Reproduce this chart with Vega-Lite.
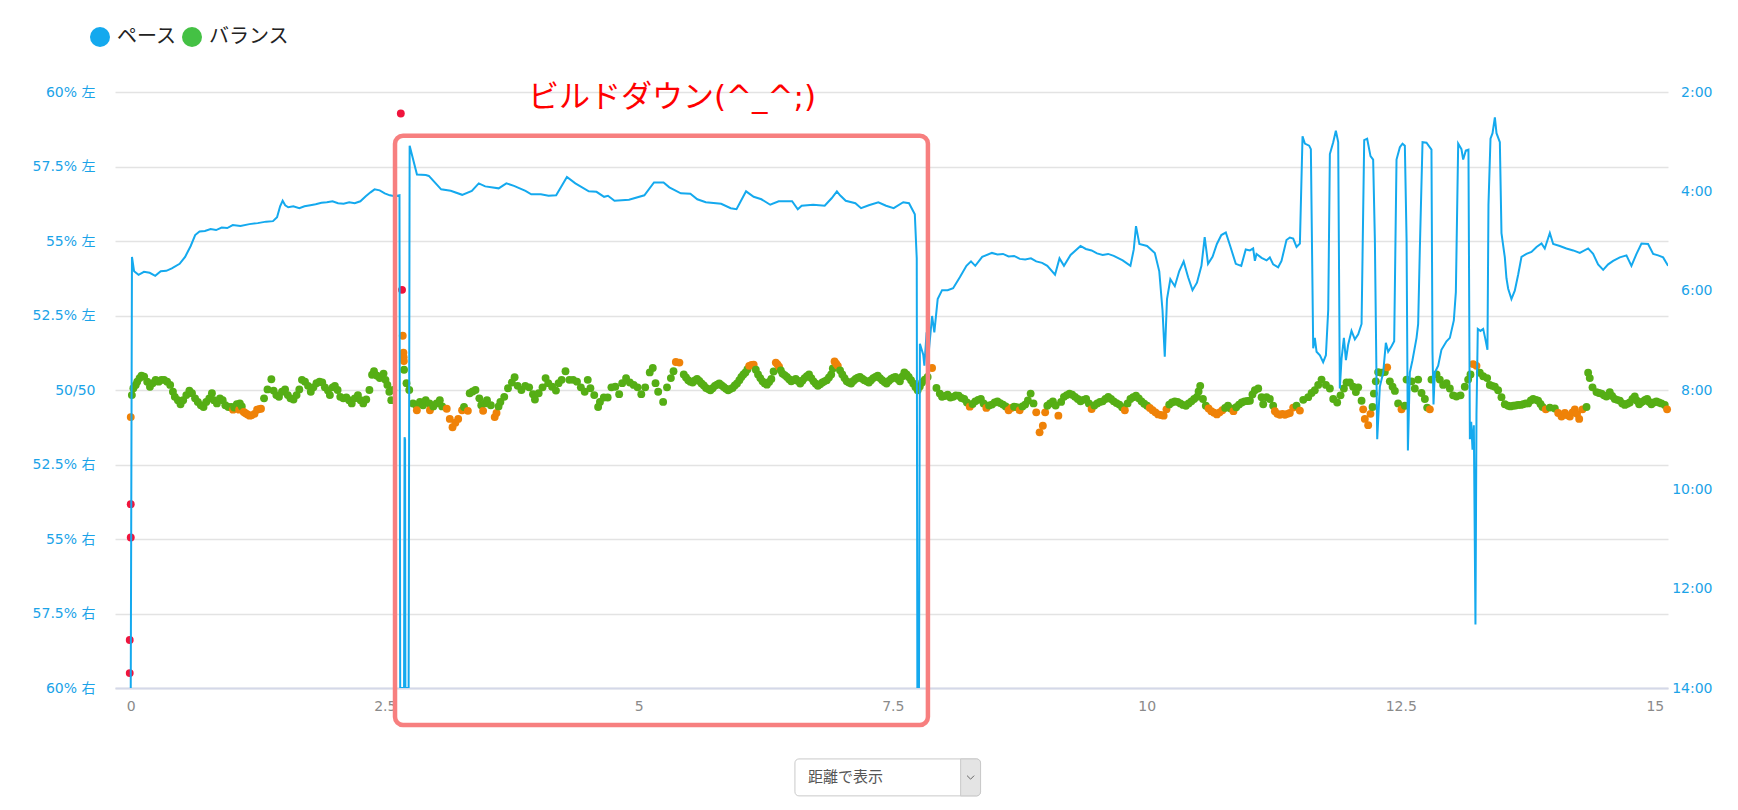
{
"$schema": "https://vega.github.io/schema/vega-lite/v6.json",
"width": 1553,
"height": 596,
"autosize": {"type": "none"},
"padding": {"left": 115, "top": 92, "right": 70, "bottom": 122},
"background": "white",
"config": {"view": {"stroke": null}, "font": "DejaVu Sans, Noto Sans CJK JP"},
"datasets": {
"pace": [
{"km":0,"pace":14},{"km":0.012,"pace":5.32},{"km":0.033,"pace":5.61},{"km":0.077,"pace":5.68},{"km":0.13,"pace":5.62},{"km":0.186,"pace":5.64},{"km":0.241,"pace":5.70},{"km":0.295,"pace":5.61},{"km":0.35,"pace":5.60},{"km":0.404,"pace":5.55},{"km":0.481,"pace":5.46},{"km":0.535,"pace":5.32},{"km":0.59,"pace":5.10},{"km":0.634,"pace":4.88},{"km":0.677,"pace":4.81},{"km":0.73,"pace":4.80},{"km":0.786,"pace":4.76},{"km":0.84,"pace":4.78},{"km":0.895,"pace":4.73},{"km":0.95,"pace":4.74},{"km":1.004,"pace":4.68},{"km":1.08,"pace":4.70},{"km":1.168,"pace":4.66},{"km":1.25,"pace":4.64},{"km":1.332,"pace":4.61},{"km":1.40,"pace":4.60},{"km":1.44,"pace":4.52},{"km":1.47,"pace":4.30},{"km":1.495,"pace":4.19},{"km":1.52,"pace":4.28},{"km":1.55,"pace":4.32},{"km":1.60,"pace":4.30},{"km":1.659,"pace":4.34},{"km":1.71,"pace":4.30},{"km":1.768,"pace":4.28},{"km":1.82,"pace":4.26},{"km":1.877,"pace":4.23},{"km":1.93,"pace":4.22},{"km":1.986,"pace":4.20},{"km":2.04,"pace":4.24},{"km":2.095,"pace":4.25},{"km":2.15,"pace":4.22},{"km":2.204,"pace":4.24},{"km":2.26,"pace":4.20},{"km":2.313,"pace":4.10},{"km":2.36,"pace":4.02},{"km":2.40,"pace":3.96},{"km":2.45,"pace":3.98},{"km":2.50,"pace":4.04},{"km":2.55,"pace":4.08},{"km":2.60,"pace":4.10},{"km":2.645,"pace":4.08},
{"km":2.652,"pace":14},{"km":2.69,"pace":14},{"km":2.695,"pace":8.95},{"km":2.70,"pace":9.0},{"km":2.703,"pace":14},{"km":2.735,"pace":14},
{"km":2.745,"pace":3.08},{"km":2.817,"pace":3.66},{"km":2.904,"pace":3.67},{"km":2.934,"pace":3.69},{"km":3.055,"pace":3.96},{"km":3.149,"pace":3.99},{"km":3.262,"pace":4.07},{"km":3.357,"pace":3.99},{"km":3.425,"pace":3.84},{"km":3.489,"pace":3.90},{"km":3.621,"pace":3.94},{"km":3.697,"pace":3.84},{"km":3.772,"pace":3.89},{"km":3.885,"pace":3.99},{"km":3.942,"pace":4.06},{"km":4.036,"pace":4.06},{"km":4.112,"pace":4.09},{"km":4.187,"pace":4.08},{"km":4.293,"pace":3.71},{"km":4.376,"pace":3.84},{"km":4.508,"pace":4.00},{"km":4.584,"pace":4.01},{"km":4.659,"pace":4.11},{"km":4.697,"pace":4.09},{"km":4.761,"pace":4.19},{"km":4.904,"pace":4.17},{"km":5.055,"pace":4.08},{"km":5.150,"pace":3.82},{"km":5.244,"pace":3.82},{"km":5.301,"pace":3.92},{"km":5.414,"pace":4.04},{"km":5.508,"pace":4.05},{"km":5.576,"pace":4.16},{"km":5.660,"pace":4.22},{"km":5.811,"pace":4.25},{"km":5.905,"pace":4.34},{"km":5.962,"pace":4.36},{"km":6.056,"pace":4.00},{"km":6.131,"pace":4.11},{"km":6.207,"pace":4.16},{"km":6.294,"pace":4.27},{"km":6.377,"pace":4.20},{"km":6.509,"pace":4.20},{"km":6.565,"pace":4.36},{"km":6.603,"pace":4.29},{"km":6.716,"pace":4.27},{"km":6.830,"pace":4.29},{"km":6.898,"pace":4.14},{"km":6.950,"pace":4.00},{"km":6.981,"pace":4.08},{"km":7.037,"pace":4.19},{"km":7.132,"pace":4.24},{"km":7.188,"pace":4.34},{"km":7.264,"pace":4.28},{"km":7.358,"pace":4.22},{"km":7.434,"pace":4.29},{"km":7.509,"pace":4.34},{"km":7.603,"pace":4.22},{"km":7.660,"pace":4.24},{"km":7.717,"pace":4.46},{"km":7.736,"pace":5.35},
{"km":7.742,"pace":14},{"km":7.758,"pace":14},{"km":7.767,"pace":7.07},{"km":7.80,"pace":7.29},{"km":7.811,"pace":7.51},{"km":7.833,"pace":6.84},{"km":7.854,"pace":7.24},{"km":7.887,"pace":6.51},{"km":7.909,"pace":6.84},{"km":7.942,"pace":6.17},{"km":7.985,"pace":5.99},{"km":8.04,"pace":5.99},{"km":8.094,"pace":5.95},{"km":8.16,"pace":5.73},{"km":8.225,"pace":5.50},{"km":8.27,"pace":5.41},{"km":8.312,"pace":5.50},{"km":8.38,"pace":5.32},{"km":8.476,"pace":5.24},{"km":8.53,"pace":5.27},{"km":8.585,"pace":5.26},{"km":8.64,"pace":5.31},{"km":8.694,"pace":5.30},{"km":8.75,"pace":5.36},{"km":8.803,"pace":5.37},{"km":8.86,"pace":5.35},{"km":8.912,"pace":5.41},{"km":8.97,"pace":5.44},{"km":9.021,"pace":5.50},{"km":9.097,"pace":5.68},{"km":9.141,"pace":5.35},{"km":9.185,"pace":5.50},{"km":9.25,"pace":5.28},{"km":9.348,"pace":5.10},{"km":9.40,"pace":5.16},{"km":9.457,"pace":5.19},{"km":9.51,"pace":5.25},{"km":9.566,"pace":5.28},{"km":9.62,"pace":5.26},{"km":9.675,"pace":5.30},{"km":9.763,"pace":5.39},{"km":9.839,"pace":5.50},{"km":9.872,"pace":5.17},{"km":9.894,"pace":4.70},{"km":9.927,"pace":5.06},{"km":10.003,"pace":5.10},{"km":10.079,"pace":5.24},{"km":10.123,"pace":5.61},{"km":10.155,"pace":6.40},{"km":10.177,"pace":7.33},{"km":10.199,"pace":6.17},{"km":10.232,"pace":5.77},{"km":10.276,"pace":5.91},{"km":10.319,"pace":5.61},{"km":10.363,"pace":5.41},{"km":10.407,"pace":5.73},{"km":10.45,"pace":5.99},{"km":10.494,"pace":5.84},{"km":10.538,"pace":5.50},{"km":10.57,"pace":4.92},{"km":10.603,"pace":5.46},{"km":10.647,"pace":5.32},{"km":10.69,"pace":5.06},{"km":10.734,"pace":4.88},{"km":10.778,"pace":4.83},{"km":10.821,"pace":5.10},{"km":10.876,"pace":5.46},{"km":10.93,"pace":5.50},{"km":10.974,"pace":5.17},
{"km":11.015,"pace":5.19},{"km":11.047,"pace":5.15},{"km":11.064,"pace":5.40},{"km":11.08,"pace":5.26},{"km":11.13,"pace":5.34},{"km":11.179,"pace":5.39},{"km":11.211,"pace":5.33},{"km":11.244,"pace":5.47},{"km":11.293,"pace":5.53},{"km":11.326,"pace":5.40},{"km":11.375,"pace":4.98},{"km":11.408,"pace":4.93},{"km":11.441,"pace":4.95},{"km":11.474,"pace":5.12},{"km":11.507,"pace":5.05},{"km":11.533,"pace":2.89},{"km":11.556,"pace":3.04},{"km":11.598,"pace":3.08},{"km":11.615,"pace":3.15},{"km":11.638,"pace":7.16},{"km":11.654,"pace":6.95},{"km":11.671,"pace":7.23},{"km":11.704,"pace":7.30},{"km":11.736,"pace":7.44},{"km":11.763,"pace":7.30},{"km":11.786,"pace":6.38},{"km":11.802,"pace":3.25},{"km":11.835,"pace":3.01},{"km":11.861,"pace":2.78},{"km":11.884,"pace":3.01},{"km":11.90,"pace":7.97},{"km":11.917,"pace":7.37},{"km":11.94,"pace":6.95},{"km":11.96,"pace":7.40},{"km":11.982,"pace":7.09},{"km":12.015,"pace":6.81},{"km":12.048,"pace":6.98},{"km":12.081,"pace":6.88},{"km":12.114,"pace":6.67},{"km":12.14,"pace":2.97},{"km":12.169,"pace":2.94},{"km":12.202,"pace":3.29},{"km":12.228,"pace":3.36},{"km":12.245,"pace":4.98},{"km":12.268,"pace":8.99},{"km":12.294,"pace":7.93},{"km":12.327,"pace":7.65},{"km":12.353,"pace":7.05},{"km":12.376,"pace":7.23},{"km":12.409,"pace":7.12},{"km":12.435,"pace":7.02},{"km":12.458,"pace":3.36},{"km":12.491,"pace":3.11},{"km":12.517,"pace":3.04},{"km":12.54,"pace":3.08},{"km":12.557,"pace":4.98},{"km":12.57,"pace":9.22},{"km":12.589,"pace":7.65},{"km":12.615,"pace":7.40},{"km":12.655,"pace":6.95},{"km":12.671,"pace":6.67},{"km":12.688,"pace":5.12},{"km":12.714,"pace":3.01},{"km":12.753,"pace":3.02},{"km":12.802,"pace":3.16},{"km":12.812,"pace":7.23},{"km":12.822,"pace":8.29},{"km":12.835,"pace":7.65},{"km":12.868,"pace":7.51},{"km":12.9,"pace":7.19},{"km":12.95,"pace":7.02},{"km":12.983,"pace":6.95},{"km":13.022,"pace":6.60},{"km":13.042,"pace":6.03},{"km":13.065,"pace":3.04},{"km":13.097,"pace":3.15},{"km":13.114,"pace":3.36},{"km":13.14,"pace":3.18},{"km":13.166,"pace":3.16},{"km":13.18,"pace":8.99},{"km":13.193,"pace":8.64},{"km":13.206,"pace":9.20},{"km":13.219,"pace":8.71},{"km":13.235,"pace":12.72},{"km":13.245,"pace":8.50},{"km":13.258,"pace":6.77},{"km":13.284,"pace":6.81},{"km":13.311,"pace":6.77},{"km":13.33,"pace":6.95},{"km":13.353,"pace":7.19},{"km":13.363,"pace":4.27},{"km":13.383,"pace":2.94},{"km":13.403,"pace":2.83},{"km":13.426,"pace":2.51},{"km":13.442,"pace":2.83},{"km":13.475,"pace":3.01},{"km":13.491,"pace":4.84},{"km":13.524,"pace":5.33},{"km":13.54,"pace":5.75},{"km":13.557,"pace":5.96},{"km":13.589,"pace":6.17},{"km":13.622,"pace":6.00},{"km":13.655,"pace":5.68},{"km":13.688,"pace":5.32},{"km":13.737,"pace":5.26},{"km":13.786,"pace":5.22},{"km":13.836,"pace":5.12},{"km":13.885,"pace":5.05},{"km":13.917,"pace":5.15},{"km":13.967,"pace":4.84},{"km":14.0,"pace":5.06},{"km":14.065,"pace":5.10},{"km":14.13,"pace":5.15},{"km":14.197,"pace":5.19},{"km":14.262,"pace":5.24},{"km":14.344,"pace":5.15},{"km":14.393,"pace":5.26},{"km":14.442,"pace":5.47},{"km":14.492,"pace":5.58},{"km":14.541,"pace":5.47},{"km":14.59,"pace":5.40},{"km":14.656,"pace":5.33},{"km":14.721,"pace":5.29},{"km":14.77,"pace":5.50},{"km":14.82,"pace":5.26},{"km":14.869,"pace":5.05},{"km":14.934,"pace":5.06},{"km":14.984,"pace":5.26},{"km":15.033,"pace":5.29},{"km":15.082,"pace":5.33},{"km":15.131,"pace":5.50}
],
"bal": [
{"km":0,"bal":-0.91,"c":"o"},{"km":0,"bal":-3.83,"c":"r"},{"km":0,"bal":-4.95,"c":"r"},{"km":-0.01,"bal":-8.39,"c":"r"},{"km":-0.01,"bal":-9.5,"c":"r"},
{"km":0.011,"bal":-0.17,"c":"g"},{"km":0.026,"bal":0.06,"c":"g"},{"km":0.049,"bal":0.17,"c":"g"},{"km":0.064,"bal":0.28,"c":"g"},{"km":0.087,"bal":0.40,"c":"g"},{"km":0.106,"bal":0.48,"c":"g"},{"km":0.132,"bal":0.45,"c":"g"},{"km":0.162,"bal":0.28,"c":"g"},{"km":0.189,"bal":0.11,"c":"g"},{"km":0.215,"bal":0.23,"c":"g"},{"km":0.245,"bal":0.34,"c":"g"},{"km":0.275,"bal":0.28,"c":"g"},{"km":0.302,"bal":0.34,"c":"g"},{"km":0.328,"bal":0.34,"c":"g"},{"km":0.358,"bal":0.28,"c":"g"},{"km":0.388,"bal":0.17,"c":"g"},{"km":0.415,"bal":-0.06,"c":"g"},{"km":0.434,"bal":-0.23,"c":"g"},{"km":0.464,"bal":-0.34,"c":"g"},{"km":0.49,"bal":-0.48,"c":"g"},{"km":0.516,"bal":-0.34,"c":"g"},{"km":0.547,"bal":-0.17,"c":"g"},{"km":0.577,"bal":-0.02,"c":"g"},{"km":0.603,"bal":-0.11,"c":"g"},{"km":0.633,"bal":-0.28,"c":"g"},{"km":0.66,"bal":-0.40,"c":"g"},{"km":0.69,"bal":-0.51,"c":"g"},{"km":0.716,"bal":-0.57,"c":"g"},{"km":0.743,"bal":-0.40,"c":"g"},{"km":0.773,"bal":-0.28,"c":"g"},{"km":0.799,"bal":-0.11,"c":"g"},{"km":0.818,"bal":-0.34,"c":"g"},{"km":0.848,"bal":-0.45,"c":"g"},{"km":0.878,"bal":-0.28,"c":"g"},{"km":0.905,"bal":-0.34,"c":"g"},{"km":0.931,"bal":-0.51,"c":"g"},{"km":0.961,"bal":-0.57,"c":"g"},{"km":0.992,"bal":-0.57,"c":"g"},{"km":1.007,"bal":-0.66,"c":"o"},{"km":1.018,"bal":-0.59,"c":"g"},{"km":1.044,"bal":-0.48,"c":"g"},{"km":1.067,"bal":-0.66,"c":"o"},{"km":1.074,"bal":-0.45,"c":"g"},{"km":1.093,"bal":-0.55,"c":"g"},{"km":1.112,"bal":-0.74,"c":"o"},{"km":1.13,"bal":-0.78,"c":"o"},{"km":1.15,"bal":-0.82,"c":"o"},{"km":1.17,"bal":-0.86,"c":"o"},{"km":1.188,"bal":-0.85,"c":"o"},{"km":1.218,"bal":-0.80,"c":"o"},{"km":1.244,"bal":-0.66,"c":"o"},{"km":1.262,"bal":-0.64,"c":"o"},{"km":1.282,"bal":-0.63,"c":"o"},{"km":1.312,"bal":-0.28,"c":"g"},{"km":1.346,"bal":0.02,"c":"g"},{"km":1.384,"bal":0.36,"c":"g"},{"km":1.406,"bal":-0.02,"c":"g"},{"km":1.433,"bal":-0.17,"c":"g"},{"km":1.459,"bal":-0.23,"c":"g"},{"km":1.489,"bal":-0.06,"c":"g"},{"km":1.519,"bal":0.02,"c":"g"},{"km":1.546,"bal":-0.17,"c":"g"},{"km":1.572,"bal":-0.28,"c":"g"},{"km":1.602,"bal":-0.32,"c":"g"},{"km":1.632,"bal":-0.17,"c":"g"},{"km":1.659,"bal":0.02,"c":"g"},{"km":1.685,"bal":0.34,"c":"g"},{"km":1.715,"bal":0.28,"c":"g"},{"km":1.745,"bal":0.14,"c":"g"},{"km":1.772,"bal":-0.06,"c":"g"},{"km":1.798,"bal":0.09,"c":"g"},{"km":1.828,"bal":0.23,"c":"g"},{"km":1.858,"bal":0.28,"c":"g"},{"km":1.885,"bal":0.25,"c":"g"},{"km":1.911,"bal":0.09,"c":"g"},{"km":1.941,"bal":-0.02,"c":"g"},{"km":1.96,"bal":-0.17,"c":"g"},{"km":1.987,"bal":0.09,"c":"g"},{"km":2.009,"bal":0.14,"c":"g"},{"km":2.036,"bal":0.0,"c":"g"},{"km":2.062,"bal":-0.23,"c":"g"},{"km":2.092,"bal":-0.28,"c":"g"},{"km":2.122,"bal":-0.25,"c":"g"},{"km":2.149,"bal":-0.34,"c":"g"},{"km":2.175,"bal":-0.45,"c":"g"},{"km":2.205,"bal":-0.28,"c":"g"},{"km":2.236,"bal":-0.17,"c":"g"},{"km":2.262,"bal":-0.34,"c":"g"},{"km":2.288,"bal":-0.45,"c":"g"},{"km":2.318,"bal":-0.32,"c":"g"},{"km":2.349,"bal":0.0,"c":"g"},{"km":2.375,"bal":0.51,"c":"g"},{"km":2.394,"bal":0.63,"c":"g"},{"km":2.424,"bal":0.48,"c":"g"},{"km":2.451,"bal":0.40,"c":"g"},{"km":2.488,"bal":0.55,"c":"g"},{"km":2.507,"bal":0.34,"c":"g"},{"km":2.526,"bal":0.17,"c":"g"},{"km":2.545,"bal":-0.06,"c":"g"},{"km":2.564,"bal":-0.34,"c":"g"},{"km":2.583,"bal":0.0,"c":"g"},
{"km":2.658,"bal":9.28,"c":"r"},{"km":2.67,"bal":3.36,"c":"r"},{"km":2.677,"bal":1.82,"c":"o"},{"km":2.684,"bal":1.25,"c":"o"},{"km":2.686,"bal":1.1,"c":"o"},{"km":2.688,"bal":0.97,"c":"o"},{"km":2.69,"bal":0.68,"c":"g"},{"km":2.714,"bal":0.23,"c":"g"},{"km":2.741,"bal":0.0,"c":"g"},{"km":2.778,"bal":-0.45,"c":"g"},{"km":2.809,"bal":-0.51,"c":"g"},{"km":2.816,"bal":-0.68,"c":"o"},{"km":2.846,"bal":-0.40,"c":"g"},{"km":2.877,"bal":-0.51,"c":"g"},{"km":2.903,"bal":-0.34,"c":"g"},{"km":2.94,"bal":-0.45,"c":"g"},{"km":2.945,"bal":-0.68,"c":"o"},{"km":2.978,"bal":-0.55,"c":"g"},{"km":3.01,"bal":-0.45,"c":"g"},{"km":3.042,"bal":-0.34,"c":"g"},{"km":3.065,"bal":-0.55,"c":"g"},{"km":3.11,"bal":-0.63,"c":"o"},{"km":3.14,"bal":-0.97,"c":"o"},{"km":3.167,"bal":-1.25,"c":"o"},{"km":3.195,"bal":-1.1,"c":"o"},{"km":3.223,"bal":-0.97,"c":"o"},{"km":3.261,"bal":-0.68,"c":"o"},{"km":3.28,"bal":-0.57,"c":"g"},{"km":3.318,"bal":-0.70,"c":"o"},{"km":3.336,"bal":-0.11,"c":"g"},{"km":3.365,"bal":-0.05,"c":"g"},{"km":3.393,"bal":0.0,"c":"g"},{"km":3.431,"bal":-0.28,"c":"g"},{"km":3.45,"bal":-0.51,"c":"g"},{"km":3.468,"bal":-0.70,"c":"o"},{"km":3.485,"bal":-0.45,"c":"g"},{"km":3.506,"bal":-0.34,"c":"g"},{"km":3.544,"bal":-0.51,"c":"g"},{"km":3.582,"bal":-0.91,"c":"o"},{"km":3.60,"bal":-0.77,"c":"o"},{"km":3.62,"bal":-0.55,"c":"g"},{"km":3.638,"bal":-0.40,"c":"g"},{"km":3.676,"bal":-0.23,"c":"g"},{"km":3.713,"bal":0.06,"c":"g"},{"km":3.751,"bal":0.25,"c":"g"},{"km":3.778,"bal":0.43,"c":"g"},{"km":3.808,"bal":0.14,"c":"g"},{"km":3.845,"bal":0.0,"c":"g"},{"km":3.883,"bal":0.14,"c":"g"},{"km":3.921,"bal":0.09,"c":"g"},{"km":3.959,"bal":-0.14,"c":"g"},{"km":3.978,"bal":-0.32,"c":"g"},{"km":4.015,"bal":-0.11,"c":"g"},{"km":4.053,"bal":0.09,"c":"g"},{"km":4.083,"bal":0.40,"c":"g"},{"km":4.109,"bal":0.23,"c":"g"},{"km":4.147,"bal":0.11,"c":"g"},{"km":4.185,"bal":-0.02,"c":"g"},{"km":4.211,"bal":0.23,"c":"g"},{"km":4.241,"bal":0.34,"c":"g"},{"km":4.279,"bal":0.63,"c":"g"},{"km":4.317,"bal":0.34,"c":"g"},{"km":4.354,"bal":0.34,"c":"g"},{"km":4.392,"bal":0.28,"c":"g"},{"km":4.43,"bal":0.09,"c":"g"},{"km":4.468,"bal":-0.06,"c":"g"},{"km":4.498,"bal":0.34,"c":"g"},{"km":4.524,"bal":0.06,"c":"g"},{"km":4.562,"bal":-0.17,"c":"g"},{"km":4.6,"bal":-0.57,"c":"g"},{"km":4.618,"bal":-0.40,"c":"g"},{"km":4.656,"bal":-0.25,"c":"g"},{"km":4.694,"bal":-0.25,"c":"g"},{"km":4.731,"bal":0.09,"c":"g"},{"km":4.769,"bal":0.11,"c":"g"},{"km":4.807,"bal":-0.14,"c":"g"},{"km":4.837,"bal":0.23,"c":"g"},{"km":4.875,"bal":0.40,"c":"g"},{"km":4.912,"bal":0.25,"c":"g"},{"km":4.95,"bal":0.17,"c":"g"},{"km":4.988,"bal":0.09,"c":"g"},{"km":5.025,"bal":-0.14,"c":"g"},{"km":5.063,"bal":0.09,"c":"g"},{"km":5.108,"bal":0.59,"c":"g"},{"km":5.138,"bal":0.74,"c":"g"},{"km":5.165,"bal":0.23,"c":"g"},{"km":5.191,"bal":-0.06,"c":"g"},{"km":5.24,"bal":-0.40,"c":"g"},{"km":5.278,"bal":0.09,"c":"g"},{"km":5.316,"bal":0.40,"c":"g"},{"km":5.342,"bal":0.63,"c":"g"},{"km":5.365,"bal":0.94,"c":"o"},{"km":5.40,"bal":0.92,"c":"o"},
{"km":5.443,"bal":0.52,"c":"g"},{"km":5.465,"bal":0.42,"c":"g"},{"km":5.487,"bal":0.33,"c":"g"},{"km":5.508,"bal":0.28,"c":"g"},{"km":5.53,"bal":0.25,"c":"g"},{"km":5.552,"bal":0.32,"c":"g"},{"km":5.574,"bal":0.37,"c":"g"},{"km":5.596,"bal":0.30,"c":"g"},{"km":5.618,"bal":0.22,"c":"g"},{"km":5.64,"bal":0.15,"c":"g"},{"km":5.662,"bal":0.07,"c":"g"},{"km":5.684,"bal":0.03,"c":"g"},{"km":5.705,"bal":-0.01,"c":"g"},{"km":5.727,"bal":0.06,"c":"g"},{"km":5.749,"bal":0.14,"c":"g"},{"km":5.77,"bal":0.18,"c":"g"},{"km":5.792,"bal":0.22,"c":"g"},{"km":5.814,"bal":0.16,"c":"g"},{"km":5.836,"bal":0.10,"c":"g"},{"km":5.858,"bal":0.04,"c":"g"},{"km":5.88,"bal":-0.01,"c":"g"},{"km":5.9,"bal":0.03,"c":"g"},{"km":5.923,"bal":0.07,"c":"g"},{"km":5.945,"bal":0.15,"c":"g"},{"km":5.967,"bal":0.22,"c":"g"},{"km":5.99,"bal":0.33,"c":"g"},{"km":6.01,"bal":0.44,"c":"g"},{"km":6.03,"bal":0.52,"c":"g"},{"km":6.05,"bal":0.59,"c":"g"},{"km":6.07,"bal":0.70,"c":"g"},{"km":6.087,"bal":0.81,"c":"o"},{"km":6.11,"bal":0.84,"c":"o"},{"km":6.131,"bal":0.85,"c":"o"},{"km":6.152,"bal":0.68,"c":"g"},{"km":6.174,"bal":0.52,"c":"g"},{"km":6.196,"bal":0.40,"c":"g"},{"km":6.218,"bal":0.29,"c":"g"},{"km":6.24,"bal":0.22,"c":"g"},{"km":6.261,"bal":0.18,"c":"g"},{"km":6.283,"bal":0.27,"c":"g"},{"km":6.305,"bal":0.37,"c":"g"},{"km":6.327,"bal":0.62,"c":"g"},{"km":6.349,"bal":0.92,"c":"o"},{"km":6.365,"bal":0.86,"c":"o"},{"km":6.381,"bal":0.78,"c":"o"},{"km":6.398,"bal":0.66,"c":"g"},{"km":6.414,"bal":0.55,"c":"g"},{"km":6.436,"bal":0.50,"c":"g"},{"km":6.458,"bal":0.44,"c":"g"},{"km":6.48,"bal":0.36,"c":"g"},{"km":6.501,"bal":0.29,"c":"g"},{"km":6.523,"bal":0.33,"c":"g"},{"km":6.545,"bal":0.37,"c":"g"},{"km":6.567,"bal":0.30,"c":"g"},{"km":6.589,"bal":0.22,"c":"g"},{"km":6.61,"bal":0.31,"c":"g"},{"km":6.632,"bal":0.40,"c":"g"},{"km":6.654,"bal":0.46,"c":"g"},{"km":6.676,"bal":0.52,"c":"g"},{"km":6.698,"bal":0.40,"c":"g"},{"km":6.72,"bal":0.29,"c":"g"},{"km":6.742,"bal":0.21,"c":"g"},{"km":6.763,"bal":0.14,"c":"g"},{"km":6.785,"bal":0.19,"c":"g"},{"km":6.807,"bal":0.25,"c":"g"},{"km":6.828,"bal":0.29,"c":"g"},{"km":6.85,"bal":0.33,"c":"g"},{"km":6.872,"bal":0.42,"c":"g"},{"km":6.894,"bal":0.52,"c":"g"},{"km":6.91,"bal":0.72,"c":"g"},{"km":6.927,"bal":0.96,"c":"o"},{"km":6.943,"bal":0.88,"c":"o"},{"km":6.959,"bal":0.81,"c":"o"},{"km":6.981,"bal":0.66,"c":"g"},{"km":7.003,"bal":0.52,"c":"g"},{"km":7.025,"bal":0.40,"c":"g"},{"km":7.047,"bal":0.29,"c":"g"},{"km":7.068,"bal":0.25,"c":"g"},{"km":7.09,"bal":0.22,"c":"g"},{"km":7.112,"bal":0.30,"c":"g"},{"km":7.134,"bal":0.37,"c":"g"},{"km":7.155,"bal":0.41,"c":"g"},{"km":7.177,"bal":0.44,"c":"g"},{"km":7.2,"bal":0.38,"c":"g"},{"km":7.221,"bal":0.33,"c":"g"},{"km":7.243,"bal":0.29,"c":"g"},{"km":7.265,"bal":0.25,"c":"g"},{"km":7.286,"bal":0.33,"c":"g"},{"km":7.308,"bal":0.40,"c":"g"},{"km":7.33,"bal":0.44,"c":"g"},{"km":7.352,"bal":0.48,"c":"g"},{"km":7.374,"bal":0.40,"c":"g"},{"km":7.396,"bal":0.33,"c":"g"},{"km":7.418,"bal":0.27,"c":"g"},{"km":7.439,"bal":0.22,"c":"g"},{"km":7.461,"bal":0.30,"c":"g"},{"km":7.483,"bal":0.37,"c":"g"},{"km":7.505,"bal":0.41,"c":"g"},{"km":7.526,"bal":0.44,"c":"g"},{"km":7.548,"bal":0.37,"c":"g"},{"km":7.57,"bal":0.29,"c":"g"},{"km":7.592,"bal":0.45,"c":"g"},{"km":7.614,"bal":0.59,"c":"g"},{"km":7.636,"bal":0.52,"c":"g"},{"km":7.657,"bal":0.44,"c":"g"},{"km":7.68,"bal":0.33,"c":"g"},{"km":7.701,"bal":0.22,"c":"g"},{"km":7.723,"bal":0.10,"c":"g"},{"km":7.745,"bal":-0.01,"c":"g"},{"km":7.766,"bal":0.12,"c":"g"},{"km":7.788,"bal":0.25,"c":"g"},{"km":7.815,"bal":0.35,"c":"g"},{"km":7.843,"bal":0.44,"c":"g"},{"km":7.887,"bal":0.74,"c":"o"},{"km":7.93,"bal":0.07,"c":"g"},{"km":7.963,"bal":-0.12,"c":"g"},
{"km":7.985,"bal":-0.23,"c":"g"},{"km":8.012,"bal":-0.20,"c":"g"},{"km":8.04,"bal":-0.16,"c":"g"},{"km":8.067,"bal":-0.25,"c":"g"},{"km":8.094,"bal":-0.23,"c":"g"},{"km":8.121,"bal":-0.18,"c":"g"},{"km":8.149,"bal":-0.19,"c":"g"},{"km":8.176,"bal":-0.27,"c":"g"},{"km":8.203,"bal":-0.30,"c":"g"},{"km":8.23,"bal":-0.42,"c":"g"},{"km":8.258,"bal":-0.56,"c":"o"},{"km":8.285,"bal":-0.47,"c":"g"},{"km":8.312,"bal":-0.38,"c":"g"},{"km":8.34,"bal":-0.33,"c":"g"},{"km":8.367,"bal":-0.30,"c":"g"},{"km":8.394,"bal":-0.45,"c":"g"},{"km":8.421,"bal":-0.60,"c":"o"},{"km":8.448,"bal":-0.52,"c":"g"},{"km":8.476,"bal":-0.49,"c":"g"},{"km":8.503,"bal":-0.42,"c":"g"},{"km":8.53,"bal":-0.38,"c":"g"},{"km":8.557,"bal":-0.44,"c":"g"},{"km":8.585,"bal":-0.49,"c":"g"},{"km":8.612,"bal":-0.55,"c":"g"},{"km":8.64,"bal":-0.68,"c":"o"},{"km":8.667,"bal":-0.60,"c":"o"},{"km":8.694,"bal":-0.56,"c":"g"},{"km":8.72,"bal":-0.58,"c":"g"},{"km":8.749,"bal":-0.68,"c":"o"},{"km":8.776,"bal":-0.55,"c":"g"},{"km":8.803,"bal":-0.49,"c":"g"},{"km":8.83,"bal":-0.35,"c":"g"},{"km":8.857,"bal":-0.12,"c":"g"},{"km":8.885,"bal":-0.45,"c":"g"},{"km":8.912,"bal":-0.75,"c":"o"},{"km":8.945,"bal":-1.42,"c":"o"},{"km":8.977,"bal":-1.20,"c":"o"},{"km":9.0,"bal":-0.75,"c":"o"},{"km":9.021,"bal":-0.53,"c":"g"},{"km":9.048,"bal":-0.45,"c":"g"},{"km":9.076,"bal":-0.38,"c":"g"},{"km":9.103,"bal":-0.52,"c":"g"},{"km":9.13,"bal":-0.86,"c":"o"},{"km":9.157,"bal":-0.40,"c":"g"},{"km":9.185,"bal":-0.23,"c":"g"},{"km":9.212,"bal":-0.17,"c":"g"},{"km":9.239,"bal":-0.12,"c":"g"},{"km":9.266,"bal":-0.16,"c":"g"},{"km":9.294,"bal":-0.23,"c":"g"},{"km":9.321,"bal":-0.30,"c":"g"},{"km":9.348,"bal":-0.38,"c":"g"},{"km":9.375,"bal":-0.33,"c":"g"},{"km":9.403,"bal":-0.30,"c":"g"},{"km":9.43,"bal":-0.45,"c":"g"},{"km":9.457,"bal":-0.64,"c":"o"},{"km":9.484,"bal":-0.52,"c":"g"},{"km":9.512,"bal":-0.45,"c":"g"},{"km":9.539,"bal":-0.40,"c":"g"},{"km":9.566,"bal":-0.38,"c":"g"},{"km":9.593,"bal":-0.30,"c":"g"},{"km":9.621,"bal":-0.23,"c":"g"},{"km":9.648,"bal":-0.30,"c":"g"},{"km":9.675,"bal":-0.38,"c":"g"},{"km":9.702,"bal":-0.44,"c":"g"},{"km":9.73,"bal":-0.49,"c":"g"},{"km":9.757,"bal":-0.58,"c":"g"},{"km":9.784,"bal":-0.68,"c":"o"},{"km":9.811,"bal":-0.45,"c":"g"},{"km":9.839,"bal":-0.30,"c":"g"},{"km":9.866,"bal":-0.24,"c":"g"},{"km":9.894,"bal":-0.19,"c":"g"},{"km":9.921,"bal":-0.28,"c":"g"},{"km":9.948,"bal":-0.38,"c":"g"},{"km":9.975,"bal":-0.46,"c":"g"},{"km":10.003,"bal":-0.53,"c":"g"},{"km":10.03,"bal":-0.60,"c":"o"},{"km":10.057,"bal":-0.68,"c":"o"},{"km":10.085,"bal":-0.75,"c":"o"},{"km":10.112,"bal":-0.82,"c":"o"},{"km":10.139,"bal":-0.84,"c":"o"},{"km":10.166,"bal":-0.86,"c":"o"},{"km":10.194,"bal":-0.65,"c":"o"},{"km":10.221,"bal":-0.49,"c":"g"},{"km":10.248,"bal":-0.42,"c":"g"},{"km":10.276,"bal":-0.38,"c":"g"},{"km":10.303,"bal":-0.40,"c":"g"},{"km":10.33,"bal":-0.45,"c":"g"},{"km":10.357,"bal":-0.50,"c":"g"},{"km":10.385,"bal":-0.53,"c":"g"},{"km":10.412,"bal":-0.45,"c":"g"},{"km":10.439,"bal":-0.38,"c":"g"},{"km":10.466,"bal":-0.30,"c":"g"},{"km":10.494,"bal":-0.23,"c":"g"},{"km":10.51,"bal":-0.05,"c":"g"},{"km":10.526,"bal":0.14,"c":"g"},{"km":10.553,"bal":-0.30,"c":"g"},{"km":10.581,"bal":-0.53,"c":"g"},{"km":10.608,"bal":-0.62,"c":"o"},{"km":10.635,"bal":-0.71,"c":"o"},{"km":10.662,"bal":-0.76,"c":"o"},{"km":10.69,"bal":-0.82,"c":"o"},{"km":10.717,"bal":-0.75,"c":"o"},{"km":10.744,"bal":-0.68,"c":"o"},{"km":10.771,"bal":-0.60,"c":"g"},{"km":10.799,"bal":-0.53,"c":"g"},{"km":10.826,"bal":-0.62,"c":"g"},{"km":10.853,"bal":-0.71,"c":"o"},{"km":10.88,"bal":-0.58,"c":"g"},{"km":10.908,"bal":-0.49,"c":"g"},{"km":10.935,"bal":-0.42,"c":"g"},{"km":10.962,"bal":-0.38,"c":"g"},{"km":10.99,"bal":-0.37,"c":"g"},
{"km":11.015,"bal":-0.36,"c":"g"},{"km":11.04,"bal":-0.15,"c":"g"},{"km":11.064,"bal":-0.01,"c":"g"},{"km":11.097,"bal":0.05,"c":"g"},{"km":11.13,"bal":-0.24,"c":"g"},{"km":11.146,"bal":-0.48,"c":"g"},{"km":11.179,"bal":-0.24,"c":"g"},{"km":11.211,"bal":-0.30,"c":"g"},{"km":11.244,"bal":-0.53,"c":"g"},{"km":11.261,"bal":-0.71,"c":"o"},{"km":11.285,"bal":-0.80,"c":"o"},{"km":11.31,"bal":-0.83,"c":"o"},{"km":11.335,"bal":-0.80,"c":"o"},{"km":11.359,"bal":-0.83,"c":"o"},{"km":11.385,"bal":-0.80,"c":"o"},{"km":11.408,"bal":-0.77,"c":"o"},{"km":11.441,"bal":-0.59,"c":"o"},{"km":11.474,"bal":-0.53,"c":"g"},{"km":11.507,"bal":-0.69,"c":"o"},{"km":11.54,"bal":-0.33,"c":"g"},{"km":11.589,"bal":-0.24,"c":"g"},{"km":11.622,"bal":-0.10,"c":"g"},{"km":11.654,"bal":-0.01,"c":"g"},{"km":11.687,"bal":0.17,"c":"g"},{"km":11.72,"bal":0.35,"c":"g"},{"km":11.763,"bal":0.17,"c":"g"},{"km":11.802,"bal":0.05,"c":"g"},{"km":11.835,"bal":-0.30,"c":"g"},{"km":11.874,"bal":-0.42,"c":"g"},{"km":11.907,"bal":-0.18,"c":"g"},{"km":11.94,"bal":0.05,"c":"g"},{"km":11.966,"bal":0.25,"c":"g"},{"km":11.999,"bal":0.25,"c":"g"},{"km":12.031,"bal":0.11,"c":"g"},{"km":12.058,"bal":-0.07,"c":"g"},{"km":12.081,"bal":0.09,"c":"g"},{"km":12.114,"bal":-0.36,"c":"g"},{"km":12.13,"bal":-0.65,"c":"o"},{"km":12.146,"bal":-0.97,"c":"o"},{"km":12.179,"bal":-1.18,"c":"o"},{"km":12.202,"bal":-0.80,"c":"o"},{"km":12.222,"bal":-0.57,"c":"g"},{"km":12.235,"bal":-0.12,"c":"g"},{"km":12.254,"bal":0.29,"c":"g"},{"km":12.277,"bal":0.60,"c":"g"},{"km":12.31,"bal":0.58,"c":"g"},{"km":12.343,"bal":0.60,"c":"g"},{"km":12.366,"bal":0.76,"c":"o"},{"km":12.392,"bal":0.29,"c":"g"},{"km":12.419,"bal":0.11,"c":"g"},{"km":12.442,"bal":-0.03,"c":"g"},{"km":12.474,"bal":-0.45,"c":"g"},{"km":12.507,"bal":-0.65,"c":"o"},{"km":12.54,"bal":-0.53,"c":"g"},{"km":12.557,"bal":0.35,"c":"g"},{"km":12.606,"bal":0.29,"c":"g"},{"km":12.638,"bal":0.05,"c":"g"},{"km":12.671,"bal":0.35,"c":"g"},{"km":12.704,"bal":-0.10,"c":"g"},{"km":12.737,"bal":-0.30,"c":"g"},{"km":12.76,"bal":-0.59,"c":"g"},{"km":12.786,"bal":-0.65,"c":"o"},{"km":12.802,"bal":0.35,"c":"g"},{"km":12.852,"bal":0.52,"c":"g"},{"km":12.884,"bal":0.35,"c":"g"},{"km":12.917,"bal":0.17,"c":"g"},{"km":12.95,"bal":0.23,"c":"g"},{"km":12.983,"bal":0.05,"c":"g"},{"km":13.015,"bal":-0.18,"c":"g"},{"km":13.048,"bal":-0.22,"c":"g"},{"km":13.088,"bal":-0.18,"c":"g"},{"km":13.13,"bal":0.11,"c":"g"},{"km":13.163,"bal":0.35,"c":"g"},{"km":13.186,"bal":0.52,"c":"g"},{"km":13.212,"bal":0.87,"c":"o"},{"km":13.245,"bal":0.81,"c":"o"},{"km":13.278,"bal":0.58,"c":"g"},{"km":13.311,"bal":0.46,"c":"g"},{"km":13.35,"bal":0.40,"c":"g"},{"km":13.376,"bal":0.17,"c":"g"},{"km":13.4,"bal":0.14,"c":"g"},{"km":13.426,"bal":0.11,"c":"g"},{"km":13.458,"bal":-0.01,"c":"g"},{"km":13.491,"bal":-0.24,"c":"g"},{"km":13.524,"bal":-0.48,"c":"g"},{"km":13.557,"bal":-0.53,"c":"g"},{"km":13.58,"bal":-0.55,"c":"g"},{"km":13.606,"bal":-0.53,"c":"g"},{"km":13.63,"bal":-0.52,"c":"g"},{"km":13.655,"bal":-0.50,"c":"g"},{"km":13.68,"bal":-0.50,"c":"g"},{"km":13.705,"bal":-0.48,"c":"g"},{"km":13.73,"bal":-0.45,"c":"g"},{"km":13.754,"bal":-0.45,"c":"g"},{"km":13.78,"bal":-0.35,"c":"g"},{"km":13.803,"bal":-0.30,"c":"g"},{"km":13.83,"bal":-0.33,"c":"g"},{"km":13.852,"bal":-0.36,"c":"g"},{"km":13.875,"bal":-0.47,"c":"g"},{"km":13.895,"bal":-0.57,"c":"g"},{"km":13.927,"bal":-0.65,"c":"o"},{"km":13.967,"bal":-0.59,"c":"g"},{"km":14.016,"bal":-0.62,"c":"g"},{"km":14.049,"bal":-0.77,"c":"o"},{"km":14.082,"bal":-0.89,"c":"o"},{"km":14.115,"bal":-0.77,"c":"o"},{"km":14.14,"bal":-0.85,"c":"o"},{"km":14.164,"bal":-0.89,"c":"o"},{"km":14.19,"bal":-0.75,"c":"o"},{"km":14.213,"bal":-0.65,"c":"o"},{"km":14.235,"bal":-0.80,"c":"o"},{"km":14.256,"bal":-0.97,"c":"o"},{"km":14.288,"bal":-0.65,"c":"o"},{"km":14.328,"bal":-0.57,"c":"g"},{"km":14.344,"bal":0.58,"c":"g"},{"km":14.36,"bal":0.40,"c":"g"},{"km":14.387,"bal":0.09,"c":"g"},{"km":14.426,"bal":-0.07,"c":"g"},{"km":14.45,"bal":-0.10,"c":"g"},{"km":14.475,"bal":-0.12,"c":"g"},{"km":14.5,"bal":-0.18,"c":"g"},{"km":14.524,"bal":-0.22,"c":"g"},{"km":14.557,"bal":-0.07,"c":"g"},{"km":14.58,"bal":-0.20,"c":"g"},{"km":14.606,"bal":-0.30,"c":"g"},{"km":14.63,"bal":-0.33,"c":"g"},{"km":14.656,"bal":-0.36,"c":"g"},{"km":14.68,"bal":-0.45,"c":"g"},{"km":14.705,"bal":-0.50,"c":"g"},{"km":14.73,"bal":-0.46,"c":"g"},{"km":14.754,"bal":-0.42,"c":"g"},{"km":14.78,"bal":-0.30,"c":"g"},{"km":14.803,"bal":-0.22,"c":"g"},{"km":14.825,"bal":-0.36,"c":"g"},{"km":14.846,"bal":-0.48,"c":"g"},{"km":14.865,"bal":-0.42,"c":"g"},{"km":14.885,"bal":-0.38,"c":"g"},{"km":14.905,"bal":-0.33,"c":"g"},{"km":14.925,"bal":-0.30,"c":"g"},{"km":14.945,"bal":-0.40,"c":"g"},{"km":14.967,"bal":-0.48,"c":"g"},{"km":14.99,"bal":-0.42,"c":"g"},{"km":15.016,"bal":-0.38,"c":"g"},{"km":15.04,"bal":-0.42,"c":"g"},{"km":15.065,"bal":-0.45,"c":"g"},{"km":15.098,"bal":-0.50,"c":"g"},{"km":15.121,"bal":-0.65,"c":"o"}
]
},
"layer": [
{
"data": {"name": "bal"},
"mark": {"type": "point", "filled": true, "size": 62, "opacity": 1, "strokeWidth": 0},
"encoding": {
"x": {"field": "km", "type": "quantitative", "scale": {"domain": [-0.155, 15.13], "nice": false, "zero": false},
 "axis": {"values": [0, 2.5, 5, 7.5, 10, 12.5, 15], "labelExpr": "'' + datum.value", "grid": false, "ticks": false, "domain": true, "domainColor": "#d4d8e8", "domainWidth": 2, "labelColor": "#8a8a8a", "labelFontSize": 14, "labelPadding": 11, "title": null, "labelFlush": false, "labelOverlap": false, "labelFont": "DejaVu Sans"}},
"y": {"field": "bal", "type": "quantitative", "scale": {"domain": [-10, 10], "nice": false, "zero": false},
 "axis": {"orient": "left", "values": [-10, -7.5, -5, -2.5, 0, 2.5, 5, 7.5, 10], "labelExpr": "datum.value == 0 ? '50/50' : (50 + abs(datum.value)) + '% ' + (datum.value > 0 ? '左' : '右')", "grid": true, "gridColor": "#e3e3e3", "gridWidth": 1.5, "domain": false, "ticks": false, "labelPadding": 20, "labelColor": "#1ba3e8", "labelFontSize": 14, "labelFont": "DejaVu Sans, Noto Sans CJK JP", "title": null, "labelOverlap": false, "labelFlush": false}},
"fill": {"field": "c", "type": "nominal", "scale": {"domain": ["g", "o", "r"], "range": ["#55ae15", "#ef8208", "#f0143c"]}, "legend": null}
}
},
{
"data": {"name": "pace"},
"mark": {"type": "line", "strokeWidth": 2, "clip": true},
"encoding": {
"x": {"field": "km", "type": "quantitative", "scale": {"domain": [-0.155, 15.13], "nice": false, "zero": false}},
"y": {"field": "pace", "type": "quantitative", "scale": {"domain": [2, 14], "reverse": true, "nice": false, "zero": false},
 "axis": {"orient": "right", "values": [2, 4, 6, 8, 10, 12, 14], "labelExpr": "datum.value + ':00'", "grid": false, "domain": false, "ticks": false, "labelAlign": "right", "labelPadding": 44, "labelColor": "#1ba3e8", "labelFontSize": 14, "labelFont": "DejaVu Sans", "title": null, "labelOverlap": false, "labelFlush": false}},
"color": {"datum": "ペース", "type": "nominal", "scale": {"domain": ["ペース", "バランス"], "range": ["#14a9ee", "#44c144"]},
 "legend": {"orient": "none", "legendX": -25, "legendY": -65, "direction": "horizontal", "title": null, "symbolType": "circle", "symbolSize": 400, "labelFontSize": 20, "labelColor": "#222222", "labelFont": "Noto Sans CJK JP", "labelOffset": 7, "columnPadding": 5, "padding": 0, "symbolStrokeWidth": 0, "symbolOpacity": 1, "values": ["ペース", "バランス"],
  "encode": {"symbols": {"update": {"fill": {"scale": "color", "field": "value"}, "stroke": {"value": "transparent"}, "strokeWidth": {"value": 0}}}}}}
}
},
{
"layer": [
{
"data": {"values": [{"x1": 2.601, "x2": 7.846, "y1": 8.53, "y2": -11.24}]},
"mark": {"type": "rect", "fill": "transparent", "stroke": "#f77f7f", "strokeWidth": 4.5, "cornerRadius": 8},
"encoding": {
"x": {"field": "x1", "type": "quantitative", "scale": {"domain": [-0.155, 15.13], "nice": false, "zero": false}},
"x2": {"field": "x2"},
"y": {"field": "y1", "type": "quantitative", "scale": {"domain": [-10, 10], "nice": false, "zero": false}, "axis": null},
"y2": {"field": "y2"}
}
},
{
"data": {"values": [{"x": 5.327, "y": 9.8, "t": "ビルドダウン(^_^;)"}]},
"mark": {"type": "text", "align": "center", "baseline": "middle", "fontSize": 31, "color": "#ff0000", "font": "DejaVu Sans, Noto Sans CJK JP"},
"encoding": {
"x": {"field": "x", "type": "quantitative", "scale": {"domain": [-0.155, 15.13], "nice": false, "zero": false}},
"y": {"field": "y", "type": "quantitative", "scale": {"domain": [-10, 10], "nice": false, "zero": false}, "axis": null},
"text": {"field": "t"}
}
},
{
"data": {"values": [{"x1": 6.537, "x2": 8.364, "y1": -12.38, "y2": -13.62}]},
"mark": {"type": "rect", "fill": "#ffffff", "stroke": "#c9c9c9", "strokeWidth": 1, "cornerRadius": 4},
"encoding": {
"x": {"field": "x1", "type": "quantitative", "scale": {"domain": [-0.155, 15.13], "nice": false, "zero": false}},
"x2": {"field": "x2"},
"y": {"field": "y1", "type": "quantitative", "scale": {"domain": [-10, 10], "nice": false, "zero": false}, "axis": null},
"y2": {"field": "y2"}
}
},
{
"data": {"values": [{"x1": 8.168, "x2": 8.364, "y1": -12.38, "y2": -13.62}]},
"mark": {"type": "rect", "fill": "#e4e4e4", "stroke": "#c9c9c9", "strokeWidth": 1, "cornerRadiusTopRight": 4, "cornerRadiusBottomRight": 4},
"encoding": {
"x": {"field": "x1", "type": "quantitative", "scale": {"domain": [-0.155, 15.13], "nice": false, "zero": false}},
"x2": {"field": "x2"},
"y": {"field": "y1", "type": "quantitative", "scale": {"domain": [-10, 10], "nice": false, "zero": false}, "axis": null},
"y2": {"field": "y2"}
}
},
{
"data": {"values": [{"x": 6.665, "y": -13.0, "t": "距離で表示"}]},
"mark": {"type": "text", "align": "left", "baseline": "middle", "fontSize": 15, "color": "#555555", "font": "Noto Sans CJK JP"},
"encoding": {
"x": {"field": "x", "type": "quantitative", "scale": {"domain": [-0.155, 15.13], "nice": false, "zero": false}},
"y": {"field": "y", "type": "quantitative", "scale": {"domain": [-10, 10], "nice": false, "zero": false}, "axis": null},
"text": {"field": "t"}
}
},
{
"data": {"values": [{"x": 8.266, "y": -13.0}]},
"mark": {"type": "point", "shape": "M-1,-0.5L0,0.5L1,-0.5", "filled": false, "size": 50, "stroke": "#666666", "strokeWidth": 1, "opacity": 1},
"encoding": {
"x": {"field": "x", "type": "quantitative", "scale": {"domain": [-0.155, 15.13], "nice": false, "zero": false}},
"y": {"field": "y", "type": "quantitative", "scale": {"domain": [-10, 10], "nice": false, "zero": false}, "axis": null}
}
}
]
}
],
"resolve": {"scale": {"y": "independent"}, "axis": {"y": "independent"}}
}
